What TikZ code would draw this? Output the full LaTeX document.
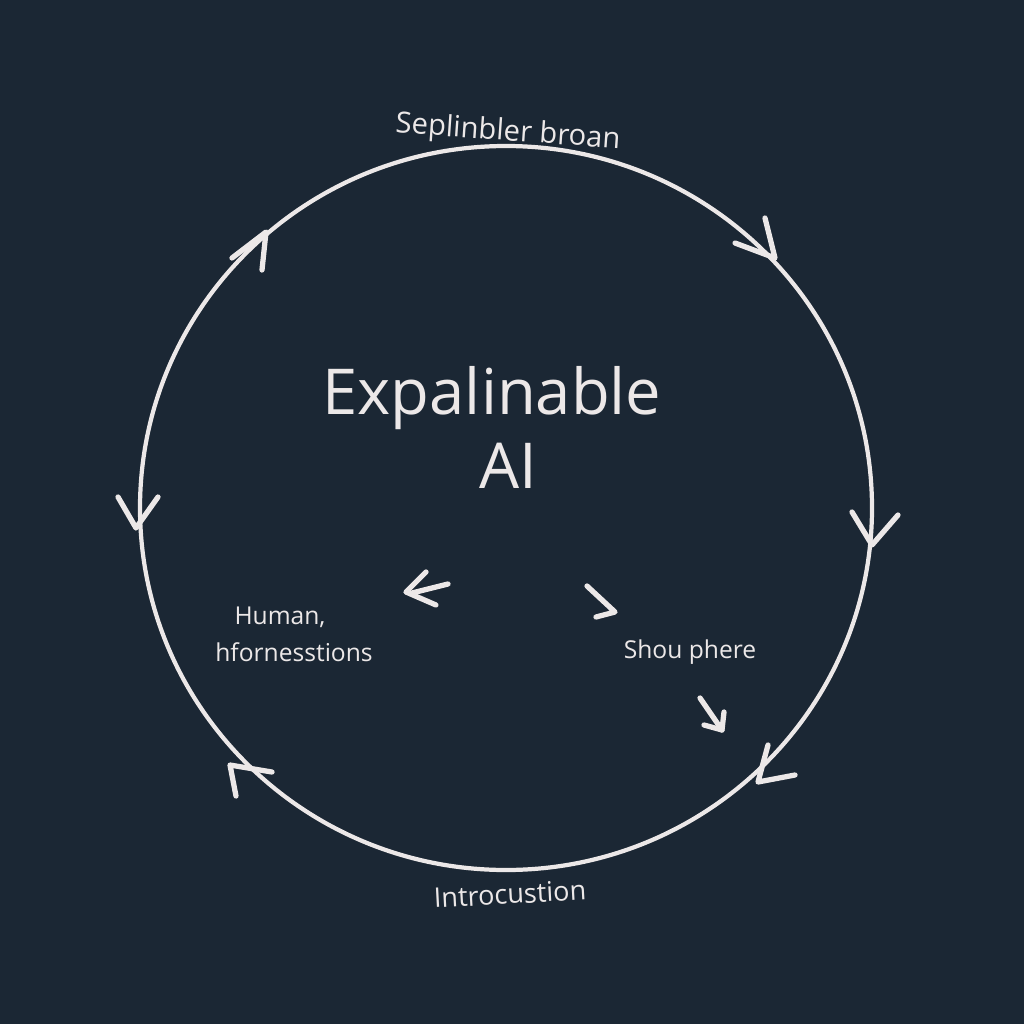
\documentclass[tikz,border=0pt]{standalone}
\usepackage{fontspec}
\setmainfont{Open Sans}
\definecolor{bg}{HTML}{1B2734}
\definecolor{ln}{HTML}{ECE8E8}
\begin{document}
\begin{tikzpicture}[x=0.01cm,y=-0.01cm,
  ring/.style={draw=ln,line width=1.2pt},
  chev/.style={draw=ln,line width=1.5pt,line cap=round,line join=round},
  lbl/.style={text=ln,font=\fontsize{7}{8}\selectfont,inner sep=0pt},
  big/.style={text=ln,font=\fontsize{18}{22}\selectfont,inner sep=0pt}]
\fill[bg] (0,0) rectangle (1024,1024);
\useasboundingbox (0,0) rectangle (1024,1024);
\coordinate (c) at (506,508);
\draw[ring] (c) circle[x radius=366,y radius=362];
% chevrons on the ring
\draw[chev] (232,258) -- (266,232) -- (262,270);
\draw[chev] (735,243) -- (775,258) -- (765,218);
\draw[chev] (852,512) -- (872,545) -- (898,515);
\draw[chev] (795,775) -- (758,782) -- (768,745);
\draw[chev] (272,772) -- (230,765) -- (236,796);
\draw[chev] (118,497) -- (136,528) -- (158,497);
% inner arrows
\draw[chev] (426,572) -- (406,592) -- (436,605);
\draw[chev] (448,584) -- (412,593);
\draw[chev] (587,586) -- (615,612) -- (596,617);
\draw[chev] (700,698) -- (722,730);
\draw[chev] (704,725) -- (722,730) -- (724,712);
% texts
\node[big] (t1) at (492,398) {Expalinable};
\node[big] (t2) at (508,466) {AI};
\node[lbl,rotate=-4,font=\fontsize{8.3}{9}\selectfont] (top) at (508,133) {Seplinbler broan};
\node[lbl,rotate=3,font=\fontsize{7.7}{9}\selectfont] (bot) at (510,894) {Introcustion};
\node[lbl] (h1) at (280,617) {Human,};
\node[lbl] (h2) at (294,652) {hfornesstions};
\node[lbl] (sp) at (690,652) {Shou phere};
\end{tikzpicture}
\end{document}
